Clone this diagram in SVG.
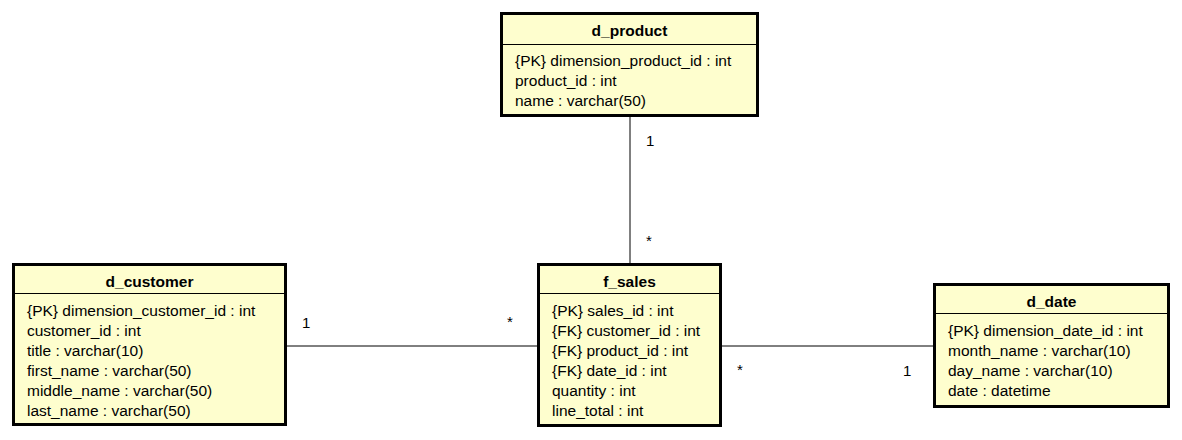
<svg xmlns="http://www.w3.org/2000/svg" width="1182" height="440" viewBox="0 0 1182 440">
<style>
.box{fill:#FEFECE;stroke:#000;stroke-width:3}
.sep{stroke:#000;stroke-width:1}
.t{font-family:"Liberation Sans",Arial,sans-serif;font-size:15.5px;font-weight:bold;text-anchor:middle;fill:#000}
.a{font-family:"Liberation Sans",Arial,sans-serif;font-size:15.5px;fill:#000}
.c{stroke:#000;stroke-width:1;fill:none}
.m{font-family:"Liberation Sans",Arial,sans-serif;font-size:15px;fill:#000}
</style>
<rect width="1182" height="440" fill="#fff"/>
<g id="connectors">
<line class="c" x1="630" y1="116" x2="630" y2="264"/>
<line class="c" x1="286" y1="346" x2="538" y2="346"/>
<line class="c" x1="721" y1="346" x2="934" y2="346"/>
<text class="m" x="646" y="146">1</text>
<text class="m" x="646" y="246">*</text>
<text class="m" x="302" y="328">1</text>
<text class="m" x="507" y="327">*</text>
<text class="m" x="737" y="375">*</text>
<text class="m" x="903" y="376">1</text>
</g>
<g id="d_product">
<rect class="box" x="501.5" y="13.5" width="256" height="102"/>
<line class="sep" x1="501" y1="44.5" x2="758" y2="44.5"/>
<text class="t" x="629.5" y="36">d_product</text>
<text class="a" x="515" y="66">{PK} dimension_product_id : int</text>
<text class="a" x="515" y="86">product_id : int</text>
<text class="a" x="515" y="106">name : varchar(50)</text>
</g>
<g id="d_customer">
<rect class="box" x="13.5" y="264.5" width="272" height="160"/>
<line class="sep" x1="13" y1="293.5" x2="286" y2="293.5"/>
<text class="t" x="149.5" y="287">d_customer</text>
<text class="a" x="27" y="316">{PK} dimension_customer_id : int</text>
<text class="a" x="27" y="336">customer_id : int</text>
<text class="a" x="27" y="356">title : varchar(10)</text>
<text class="a" x="27" y="376">first_name : varchar(50)</text>
<text class="a" x="27" y="396">middle_name : varchar(50)</text>
<text class="a" x="27" y="416">last_name : varchar(50)</text>
</g>
<g id="f_sales">
<rect class="box" x="538.5" y="264.5" width="182" height="161"/>
<line class="sep" x1="538" y1="293.5" x2="721" y2="293.5"/>
<text class="t" x="629.5" y="287">f_sales</text>
<text class="a" x="552" y="316">{PK} sales_id : int</text>
<text class="a" x="552" y="336">{FK} customer_id : int</text>
<text class="a" x="552" y="356">{FK} product_id : int</text>
<text class="a" x="552" y="376">{FK} date_id : int</text>
<text class="a" x="552" y="396">quantity : int</text>
<text class="a" x="552" y="416">line_total : int</text>
</g>
<g id="d_date">
<rect class="box" x="934.5" y="284.5" width="234" height="122"/>
<line class="sep" x1="934" y1="313.5" x2="1169" y2="313.5"/>
<text class="t" x="1051.5" y="307">d_date</text>
<text class="a" x="948" y="336">{PK} dimension_date_id : int</text>
<text class="a" x="948" y="356">month_name : varchar(10)</text>
<text class="a" x="948" y="376">day_name : varchar(10)</text>
<text class="a" x="948" y="396">date : datetime</text>
</g>
</svg>
